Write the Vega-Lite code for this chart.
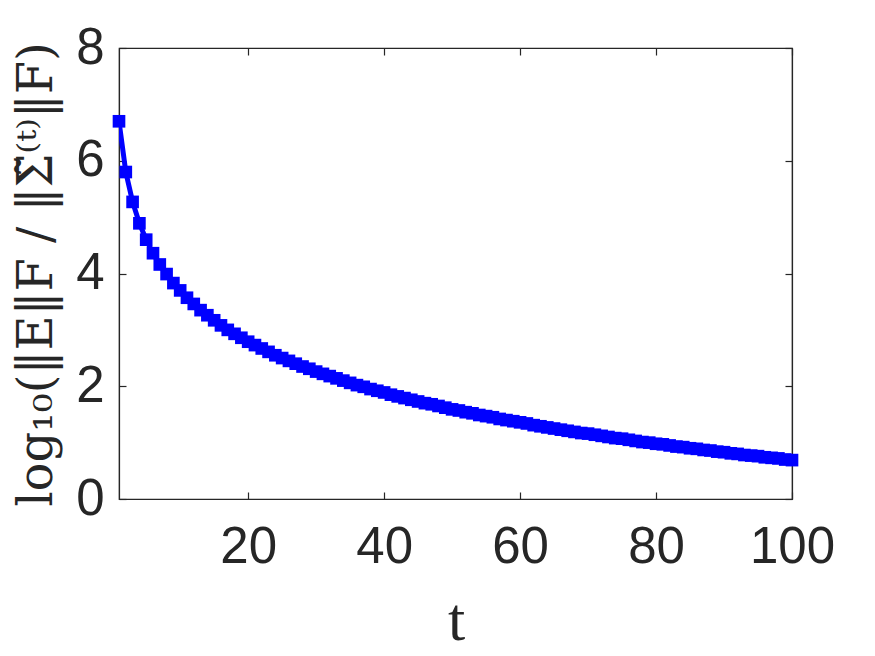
{
  "$schema": "https://vega.github.io/schema/vega-lite/v6.json",
  "width": 673,
  "height": 451,
  "autosize": {"type": "none"},
  "padding": {"left": 119, "top": 48, "right": 83, "bottom": 157},
  "background": "white",
  "config": {
    "view": {"stroke": "#262626", "strokeWidth": 1.2},
    "axis": {
      "grid": false,
      "domainColor": "#262626",
      "domainWidth": 1.2,
      "tickColor": "#262626",
      "tickWidth": 1.2,
      "tickSize": -7,
      "labelColor": "#262626",
      "labelFont": "Liberation Sans",
      "labelFontSize": 51,
      "labelFlush": false,
      "titleColor": "#262626",
      "titleFontWeight": "normal"
    }
  },
  "data": {
    "values": [
      {"t": 1, "v": 6.70}, {"t": 2, "v": 5.80}, {"t": 3, "v": 5.27}, {"t": 4, "v": 4.89}, {"t": 5, "v": 4.60},
      {"t": 6, "v": 4.36}, {"t": 7, "v": 4.16}, {"t": 8, "v": 3.99}, {"t": 9, "v": 3.83}, {"t": 10, "v": 3.70},
      {"t": 11, "v": 3.57}, {"t": 12, "v": 3.46}, {"t": 13, "v": 3.35}, {"t": 14, "v": 3.26}, {"t": 15, "v": 3.17},
      {"t": 16, "v": 3.08}, {"t": 17, "v": 3.00}, {"t": 18, "v": 2.93}, {"t": 19, "v": 2.86}, {"t": 20, "v": 2.79},
      {"t": 21, "v": 2.73}, {"t": 22, "v": 2.67}, {"t": 23, "v": 2.61}, {"t": 24, "v": 2.55}, {"t": 25, "v": 2.50},
      {"t": 26, "v": 2.45}, {"t": 27, "v": 2.40}, {"t": 28, "v": 2.35}, {"t": 29, "v": 2.31}, {"t": 30, "v": 2.26},
      {"t": 31, "v": 2.22}, {"t": 32, "v": 2.18}, {"t": 33, "v": 2.14}, {"t": 34, "v": 2.10}, {"t": 35, "v": 2.06},
      {"t": 36, "v": 2.02}, {"t": 37, "v": 1.99}, {"t": 38, "v": 1.95}, {"t": 39, "v": 1.92}, {"t": 40, "v": 1.89},
      {"t": 41, "v": 1.85}, {"t": 42, "v": 1.82}, {"t": 43, "v": 1.79}, {"t": 44, "v": 1.76}, {"t": 45, "v": 1.73},
      {"t": 46, "v": 1.70}, {"t": 47, "v": 1.68}, {"t": 48, "v": 1.65}, {"t": 49, "v": 1.62}, {"t": 50, "v": 1.59},
      {"t": 51, "v": 1.57}, {"t": 52, "v": 1.54}, {"t": 53, "v": 1.52}, {"t": 54, "v": 1.49}, {"t": 55, "v": 1.47},
      {"t": 56, "v": 1.45}, {"t": 57, "v": 1.42}, {"t": 58, "v": 1.40}, {"t": 59, "v": 1.38}, {"t": 60, "v": 1.36},
      {"t": 61, "v": 1.34}, {"t": 62, "v": 1.31}, {"t": 63, "v": 1.29}, {"t": 64, "v": 1.27}, {"t": 65, "v": 1.25},
      {"t": 66, "v": 1.23}, {"t": 67, "v": 1.21}, {"t": 68, "v": 1.19}, {"t": 69, "v": 1.17}, {"t": 70, "v": 1.16},
      {"t": 71, "v": 1.14}, {"t": 72, "v": 1.12}, {"t": 73, "v": 1.10}, {"t": 74, "v": 1.08}, {"t": 75, "v": 1.07},
      {"t": 76, "v": 1.05}, {"t": 77, "v": 1.03}, {"t": 78, "v": 1.01}, {"t": 79, "v": 1.00}, {"t": 80, "v": 0.98},
      {"t": 81, "v": 0.97}, {"t": 82, "v": 0.95}, {"t": 83, "v": 0.93}, {"t": 84, "v": 0.92}, {"t": 85, "v": 0.90},
      {"t": 86, "v": 0.89}, {"t": 87, "v": 0.87}, {"t": 88, "v": 0.86}, {"t": 89, "v": 0.84}, {"t": 90, "v": 0.83},
      {"t": 91, "v": 0.81}, {"t": 92, "v": 0.80}, {"t": 93, "v": 0.78}, {"t": 94, "v": 0.77}, {"t": 95, "v": 0.76},
      {"t": 96, "v": 0.74}, {"t": 97, "v": 0.73}, {"t": 98, "v": 0.72}, {"t": 99, "v": 0.70}, {"t": 100, "v": 0.69}
    ]
  },
  "layer": [
    {
      "mark": {"type": "line", "color": "#0000FF", "strokeWidth": 5, "clip": true},
      "encoding": {
        "x": {
          "field": "t", "type": "quantitative",
          "scale": {"domain": [1, 100], "nice": false, "zero": false},
          "axis": {
            "orient": "bottom", "values": [20, 40, 60, 80, 100], "labelPadding": 30,
            "title": "t", "titleFont": "Liberation Serif", "titleFontSize": 62,
            "titleX": 337, "titleY": 140, "titleBaseline": "alphabetic", "titleAlign": "center"
          }
        },
        "y": {
          "field": "v", "type": "quantitative",
          "scale": {"domain": [0, 8], "nice": false},
          "axis": {
            "orient": "left", "values": [0, 2, 4, 6, 8], "labelPadding": 22,
            "title": "log₁₀(‖E‖F / ‖Σ̃⁽ᵗ⁾‖F)", "titleFont": "DejaVu Serif", "titleFontSize": 48,
            "titleAngle": -90, "titleX": -82, "titleY": 226, "titleBaseline": "middle", "titleAlign": "center"
          }
        }
      }
    },
    {
      "mark": {"type": "point", "shape": "square", "filled": true, "color": "#0000FF", "size": 160, "opacity": 1},
      "encoding": {
        "x": {
          "field": "t", "type": "quantitative",
          "axis": {"orient": "top", "values": [20, 40, 60, 80, 100], "labels": false, "title": null}
        },
        "y": {
          "field": "v", "type": "quantitative",
          "axis": {"orient": "right", "values": [0, 2, 4, 6, 8], "labels": false, "title": null}
        }
      }
    }
  ],
  "resolve": {"axis": {"x": "independent", "y": "independent"}}
}
